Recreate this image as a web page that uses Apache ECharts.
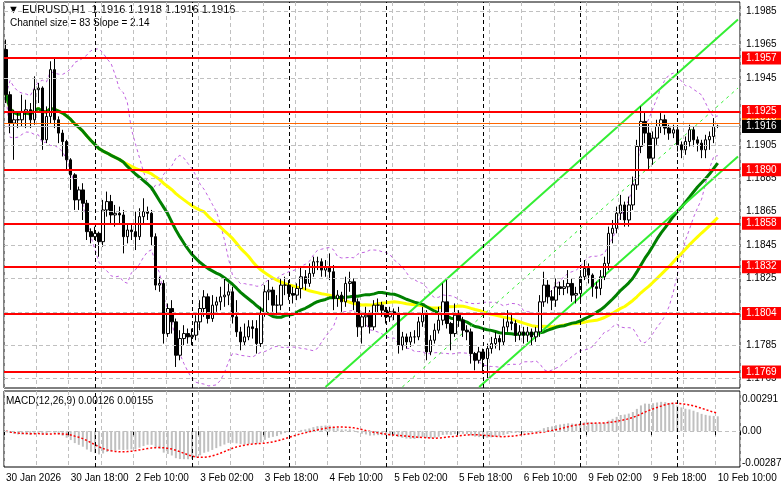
<!DOCTYPE html>
<html>
<head>
<meta charset="utf-8">
<script src="https://cdn.jsdelivr.net/npm/echarts@6/dist/echarts.min.js"></script>
<style>html,body{margin:0;padding:0;background:#fff}#chart{width:781px;height:489px}</style>
</head>
<body>
<div id="chart"></div>
<script>
// EURUSD H1 bars (open = previous close)
var firstOpen = 1.1962;
var closes = [1.1935,1.1918,1.1920,1.1920,1.1925,1.1926,1.1920,1.1938,1.1939,1.1908,1.1922,1.1950,1.1920,1.1912,1.1907,1.1896,1.1887,1.1872,1.1878,1.1870,
1.1853,1.1850,1.1852,1.1847,1.1866,1.1871,1.1863,1.1864,1.1863,1.1850,1.1854,1.1853,1.1850,1.1862,1.1865,1.1864,1.1850,1.1821,1.1822,1.1792,
1.1807,1.1799,1.1779,1.1789,1.1792,1.1790,1.1791,1.1799,1.1807,1.1814,1.1801,1.1809,1.1811,1.1814,1.1815,1.1817,1.1802,1.1793,1.1787,1.1790,
1.1796,1.1795,1.1786,1.1804,1.1817,1.1818,1.1809,1.1809,1.1821,1.1821,1.1816,1.1815,1.1819,1.1826,1.1822,1.1828,1.1835,1.1835,1.1830,1.1832,
1.1829,1.1813,1.1815,1.1811,1.1822,1.1823,1.1811,1.1796,1.1802,1.1803,1.1796,1.1809,1.1809,1.1806,1.1802,1.1805,1.1804,1.1785,1.1790,1.1787,
1.1790,1.1790,1.1799,1.1804,1.1781,1.1788,1.1794,1.1800,1.1811,1.1798,1.1792,1.1803,1.1800,1.1794,1.1793,1.1780,1.1776,1.1781,1.1777,1.1783,
1.1786,1.1789,1.1787,1.1796,1.1799,1.1798,1.1791,1.1793,1.1791,1.1793,1.1790,1.1793,1.1811,1.1821,1.1814,1.1812,1.1820,1.1819,1.1820,1.1822,
1.1815,1.1816,1.1826,1.1831,1.1827,1.1820,1.1819,1.1826,1.1834,1.1852,1.1855,1.1864,1.1869,1.1860,1.1869,1.1881,1.1904,1.1919,1.1912,1.1897,
1.1909,1.1916,1.1920,1.1915,1.1912,1.1914,1.1905,1.1902,1.1907,1.1914,1.1908,1.1906,1.1902,1.1908,1.1910,1.1916,1.1916];
var lows = [1.1930,1.1912,1.1896,1.1915,1.1916,1.1915,1.1915,1.1917,1.1930,1.1902,1.1906,1.1918,1.1915,1.1906,1.1898,1.1890,1.1878,1.1866,1.1866,1.1860,
1.1848,1.1846,1.1848,1.1838,1.1844,1.1862,1.1858,1.1856,1.1857,1.1840,1.1846,1.1848,1.1842,1.1848,1.1858,1.1860,1.1845,1.1818,1.1817,1.1786,
1.1790,1.1792,1.1772,1.1776,1.1785,1.1786,1.1785,1.1788,1.1794,1.1802,1.1798,1.1799,1.1805,1.1806,1.1808,1.1809,1.1798,1.1790,1.1782,1.1785,
1.1788,1.1789,1.1780,1.1784,1.1802,1.1812,1.1805,1.1803,1.1806,1.1815,1.1812,1.1810,1.1812,1.1813,1.1818,1.1820,1.1826,1.1830,1.1826,1.1826,
1.1824,1.1806,1.1808,1.1805,1.1808,1.1817,1.1806,1.1790,1.1786,1.1796,1.1792,1.1794,1.1804,1.1802,1.1798,1.1799,1.1800,1.1780,1.1782,1.1783,
1.1784,1.1786,1.1788,1.1796,1.1776,1.1779,1.1786,1.1792,1.1797,1.1795,1.1782,1.1790,1.1796,1.1790,1.1788,1.1774,1.1770,1.1774,1.1768,1.1765,
1.1780,1.1783,1.1782,1.1785,1.1793,1.1794,1.1787,1.1788,1.1786,1.1787,1.1785,1.1787,1.1790,1.1808,1.1810,1.1806,1.1808,1.1815,1.1815,1.1816,
1.1811,1.1810,1.1812,1.1824,1.1822,1.1814,1.1813,1.1815,1.1824,1.1830,1.1846,1.1852,1.1860,1.1856,1.1856,1.1866,1.1878,1.1900,1.1906,1.1890,
1.1893,1.1905,1.1912,1.1911,1.1908,1.1909,1.1901,1.1897,1.1899,1.1904,1.1904,1.1901,1.1897,1.1897,1.1902,1.1906,1.1915];
var highs = [1.1968,1.1937,1.1926,1.1924,1.1935,1.1932,1.1930,1.1946,1.1942,1.1940,1.1928,1.1955,1.1957,1.1922,1.1914,1.1908,1.1897,1.1888,1.1880,1.1882,
1.1872,1.1855,1.1856,1.1853,1.1872,1.1877,1.1875,1.1869,1.1868,1.1866,1.1858,1.1857,1.1865,1.1867,1.1873,1.1868,1.1866,1.1852,1.1826,1.1824,
1.1810,1.1812,1.1801,1.1794,1.1797,1.1795,1.1795,1.1803,1.1812,1.1818,1.1816,1.1815,1.1814,1.1820,1.1825,1.1822,1.1820,1.1812,1.1796,1.1798,
1.1800,1.1800,1.1800,1.1808,1.1821,1.1824,1.1820,1.1815,1.1825,1.1826,1.1824,1.1820,1.1822,1.1832,1.1830,1.1834,1.1838,1.1838,1.1837,1.1836,
1.1840,1.1833,1.1818,1.1817,1.1826,1.1829,1.1825,1.1813,1.1805,1.1808,1.1806,1.1812,1.1813,1.1811,1.1808,1.1808,1.1807,1.1808,1.1793,1.1792,
1.1793,1.1794,1.1802,1.1808,1.1806,1.1791,1.1798,1.1808,1.1822,1.1824,1.1799,1.1810,1.1806,1.1802,1.1797,1.1795,1.1781,1.1784,1.1783,1.1786,
1.1790,1.1793,1.1791,1.1801,1.1806,1.1804,1.1800,1.1797,1.1796,1.1796,1.1795,1.1796,1.1815,1.1829,1.1824,1.1818,1.1825,1.1823,1.1824,1.1830,
1.1825,1.1820,1.1830,1.1836,1.1834,1.1828,1.1823,1.1830,1.1838,1.1856,1.1860,1.1868,1.1875,1.1871,1.1874,1.1886,1.1908,1.1928,1.1924,1.1918,
1.1913,1.1920,1.1924,1.1923,1.1917,1.1917,1.1915,1.1907,1.1910,1.1917,1.1916,1.1910,1.1908,1.1911,1.1913,1.1921,1.1917];

// trading days: label, first hour, bar count
var days = [['30 Jan', 2, 22], ['2 Feb', 0, 24], ['3 Feb', 0, 24], ['4 Feb', 0, 24], ['5 Feb', 0, 24], ['6 Feb', 0, 24], ['9 Feb', 0, 24], ['10 Feb', 0, 11]];
var levels = [1.1957, 1.1925, 1.1890, 1.1858, 1.1832, 1.1804, 1.1769];
var priceTicks = [1.1985, 1.1965, 1.1945, 1.1925, 1.1905, 1.1885, 1.1865, 1.1845, 1.1825, 1.1805, 1.1785, 1.1765];
var macdTicks = [0.00291, 0.00, -0.00287];
var bid = 1.1916, ask = 1.1918;
var channelUpper = [[79, 1.1760], [181, 1.1980]];
var channelMid = [[98, 1.1760], [181, 1.1939]];
var channelLower = [[117, 1.1760], [181, 1.1898]];

var cats = [], dayStarts = [];
days.forEach(function (d) {
  dayStarts.push(cats.length);
  for (var h = d[1]; h < d[1] + d[2]; h++) cats.push(d[0] + ' ' + (h < 10 ? '0' : '') + h + ':00');
});
cats[0] = '30 Jan 2026';
var slots = 182;
while (cats.length < slots) cats.push('');

var ohlc = closes.map(function (c, i) {
  var o = i === 0 ? firstOpen : closes[i - 1];
  return [o, c, lows[i], highs[i]];
});
function sma(arr, n) {
  return arr.map(function (v, i) {
    var s = 0, k = 0;
    for (var j = Math.max(0, i - n + 1); j <= i; j++) { s += arr[j]; k++; }
    return s / k;
  });
}
function ema(arr, n) {
  var a = 2 / (n + 1), out = [], e = arr[0];
  arr.forEach(function (v) { e = e + a * (v - e); out.push(e); });
  return out;
}
var ma30 = sma(closes, 30), ma50 = sma(closes, 50), mid20 = sma(closes, 20);
var bbUp = [], bbDn = [];
closes.forEach(function (v, i) {
  var s = 0, k = 0;
  for (var j = Math.max(0, i - 19); j <= i; j++) { s += Math.pow(closes[j] - mid20[i], 2); k++; }
  var sd = Math.sqrt(s / k);
  bbUp.push(mid20[i] + 2 * sd); bbDn.push(mid20[i] - 2 * sd);
});
var e12 = ema(closes, 12), e26 = ema(closes, 26);
var macd = closes.map(function (v, i) { return e12[i] - e26[i]; });
var signal = sma(macd, 9);

var daySep = dayStarts.slice(1).map(function (i) { return { xAxis: i }; });
function sepLine() {
  return { silent: true, symbol: 'none', label: { show: false },
    lineStyle: { color: '#000', type: [4, 3], width: 1 }, data: daySep };
}
function lvlBox(v, bg) {
  return { yAxis: v, label: { show: true, position: 'end', distance: 2, formatter: v.toFixed(4),
    backgroundColor: bg, color: '#fff', fontSize: 10, padding: [2, 4, 1, 4], width: 34 } };
}
var font = 'Liberation Sans, Arial, sans-serif';
var clear = { color: 'rgba(0,0,0,0)', width: 1 };

var option = {
  animation: false,
  backgroundColor: '#fff',
  textStyle: { fontFamily: font },
  grid: [
    { left: 4, right: 41, top: 2, height: 386, show: true, borderColor: '#000', borderWidth: 1 },
    { left: 4, right: 41, top: 391, bottom: 22, show: true, borderColor: '#000', borderWidth: 1 }
  ],
  xAxis: [
    { type: 'category', data: cats, gridIndex: 0, boundaryGap: true,
      axisLine: { show: false }, axisTick: { show: false }, axisLabel: { show: false },
      splitLine: { show: true, interval: function (i) { return i % 8 === 0; }, lineStyle: { color: '#c0c0c0', type: [4, 3] } } },
    { type: 'category', data: cats, gridIndex: 1, boundaryGap: true,
      axisLine: { show: false },
      axisTick: { show: true, interval: function (i) { return i % 16 === 0; }, lineStyle: { color: '#000' }, length: 4 },
      axisLabel: { show: true, interval: function (i) { return i % 16 === 0; }, align: 'left', margin: 6,
        fontSize: 10, color: '#000', fontFamily: font },
      splitLine: { show: true, interval: function (i) { return i % 8 === 0; }, lineStyle: { color: '#c0c0c0', type: [4, 3] } } }
  ],
  yAxis: [
    { type: 'value', gridIndex: 0, position: 'right', min: 1.17594, max: 1.19905, scale: true,
      axisLine: { show: false }, axisTick: { show: false }, axisLabel: { show: false }, splitLine: { show: false } },
    { type: 'value', gridIndex: 1, position: 'right', min: -0.00323, max: 0.00363,
      axisLine: { show: false }, axisTick: { show: false }, axisLabel: { show: false }, splitLine: { show: false } }
  ],
  series: [
    { type: 'line', xAxisIndex: 0, yAxisIndex: 0, data: [], silent: true,
      markLine: { silent: true, symbol: 'none', precision: 5,
        lineStyle: { color: '#c0c0c0', type: [4, 3], width: 1 },
        label: { position: 'end', distance: 6, color: '#000', fontSize: 10, formatter: function (p) { return (+p.value).toFixed(4); } },
        data: priceTicks.map(function (v) { return { yAxis: v }; }) } },
    { type: 'line', xAxisIndex: 0, yAxisIndex: 0, data: [], silent: true, markLine: sepLine() },
    { type: 'line', data: bbUp, symbol: 'none', silent: true, lineStyle: { color: '#c060e0', width: 1, type: [3, 3] } },
    { type: 'line', data: bbDn, symbol: 'none', silent: true, lineStyle: { color: '#c060e0', width: 1, type: [3, 3] } },
    { type: 'line', data: ma50, symbol: 'none', silent: true, lineStyle: { color: '#ffff00', width: 3 } },
    { type: 'line', data: ma30, symbol: 'none', silent: true, lineStyle: { color: '#008000', width: 3 } },
    { type: 'line', data: channelUpper, symbol: 'none', silent: true, lineStyle: { color: '#33ee33', width: 2 } },
    { type: 'line', data: channelMid, symbol: 'none', silent: true, lineStyle: { color: '#33ee33', width: 1, type: [3, 4] } },
    { type: 'line', data: channelLower, symbol: 'none', silent: true, lineStyle: { color: '#33ee33', width: 2 } },
    { type: 'line', xAxisIndex: 0, yAxisIndex: 0, data: [], silent: true, z: 5,
      markLine: { silent: true, symbol: 'none', precision: 5, label: { show: false },
        data: [
          { yAxis: ask, lineStyle: { color: '#ff6600', width: 1, type: 'solid' }, label: { show: true, position: 'end', distance: 2,
            formatter: ask.toFixed(4), backgroundColor: '#ff6600', color: '#fff', fontSize: 10, padding: [2, 4, 1, 4], width: 34, offset: [0, -6] } }
        ].concat(levels.map(function (v) {
          var d = lvlBox(v, '#ff0000'); d.lineStyle = { color: '#ff0000', width: 2, type: 'solid' }; return d;
        })) } },
    { type: 'line', xAxisIndex: 0, yAxisIndex: 0, data: [], silent: true, z: 6,
      markLine: { silent: true, symbol: 'none', precision: 5,
        data: [(function () { var d = lvlBox(bid, '#000'); d.lineStyle = { color: '#c0c0c0', width: 1, type: 'solid' }; return d; })()] } },
    { type: 'candlestick', data: ohlc, barWidth: 3, z: 4,
      itemStyle: { color: '#fff', color0: '#000', borderColor: '#000', borderColor0: '#000', borderWidth: 1 } },
    { type: 'bar', xAxisIndex: 1, yAxisIndex: 1, data: macd, barWidth: 2, itemStyle: { color: '#c0c0c0' }, silent: true,
      markLine: { silent: true, symbol: 'none', precision: 6,
        label: { position: 'end', distance: 2, color: '#000', fontSize: 10, formatter: function (p) { return +p.value === 0 ? '0.00' : (+p.value).toFixed(5); } },
        data: macdTicks.map(function (v) {
          return { yAxis: v, lineStyle: v === 0 ? { color: '#c0c0c0', type: [4, 3], width: 1 } : clear };
        }) } },
    { type: 'line', xAxisIndex: 1, yAxisIndex: 1, data: [], silent: true, markLine: sepLine() },
    { type: 'line', xAxisIndex: 1, yAxisIndex: 1, data: signal, symbol: 'none', silent: true, z: 4,
      lineStyle: { color: '#ff0000', width: 1.5, type: [2, 2] } }
  ],
  graphic: [
    { type: 'text', left: 8, top: 4, style: { text: '▼ EURUSD,H1  1.1916 1.1918 1.1916 1.1916', fill: '#000', font: '11px ' + font } },
    { type: 'text', left: 10, top: 18, style: { text: 'Channel size = 83 Slope = 2.14', fill: '#000', font: '10px ' + font } },
    { type: 'text', left: 6, top: 396, style: { text: 'MACD(12,26,9) 0.00126 0.00155', fill: '#000', font: '10px ' + font } }
  ]
};
echarts.init(document.getElementById('chart')).setOption(option);
</script>
</body>
</html>
